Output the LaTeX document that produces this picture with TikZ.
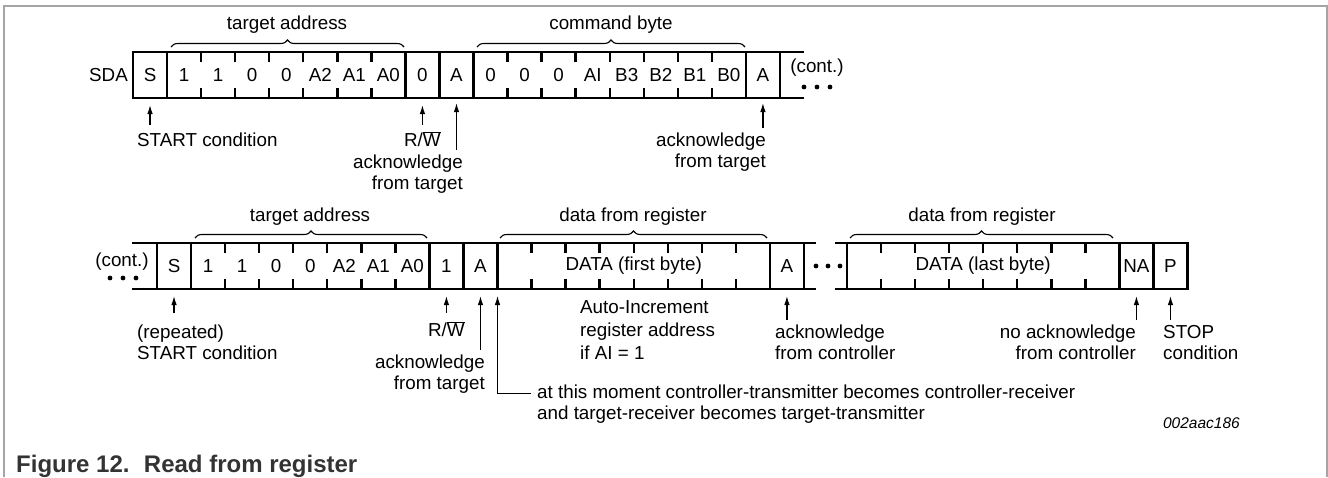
\documentclass[tikz,border=0pt]{standalone}
\usepackage{fontspec}
\setmainfont{Liberation Sans}
\usetikzlibrary{arrows.meta,decorations.pathreplacing}

\definecolor{framegray}{RGB}{165,165,165}
\definecolor{captiongray}{RGB}{51,51,51}

\def\cw{34.05}
\def\tk{9}

\tikzset{
	box/.style={line width=2.4pt, line cap=rect},
	lbl/.style={inner sep=0pt, font=\fontsize{18.8}{21}\selectfont},
	note/.style={inner sep=0pt, align=left, font=\fontsize{18.8}{21}\selectfont},
	arr/.style={line width=1.2pt, -{Latex[length=9pt,width=5.5pt]}},
	brc/.style={line width=1.1pt, decorate, decoration={brace,amplitude=7pt}},
}

\begin{document}
\begin{tikzpicture}[x=1pt,y=-1pt]

	\useasboundingbox (0,0) rectangle (1328,477);

	\draw[framegray, line width=2pt] (4,477) -- (4,5.5) -- (1326.5,5.5) -- (1326.5,477);

	% first line: target address and command byte
	\draw[box] (133,52) -- (803,52);
	\draw[box] (133,98) -- (803,98);
	\foreach \k in {0,1,8,9,10,18,19}
		\draw[box] (133+\k*\cw,52) -- (133+\k*\cw,98);
	\foreach \k in {2,3,4,5,6,7,11,12,13,14,15,16,17}
	{
		\draw[box] (133+\k*\cw,52) -- ++(0,\tk);
		\draw[box] (133+\k*\cw,98) -- ++(0,-\tk);
	}
	\foreach \bit [count=\k from 0] in {S,1,1,0,0,A2,A1,A0,0,A,0,0,0,AI,B3,B2,B1,B0,A}
		\node[lbl] (sa\k) at (133+\k*\cw+0.5*\cw,75) {\bit};

	\node[lbl, anchor=east] (sda) at (128,75) {SDA};

	\draw[brc] (171,47) -- (404,47);
	\node[lbl] (addra) at (287,25) {target address};
	\draw[brc] (477,47) -- (745,47);
	\node[lbl] (cmd) at (611,25) {command byte};

	\node[lbl] (conta) at (817,68) {(cont.)};
	\foreach \x in {804,817,830}
		\fill (\x,87) circle (2.4);

	\draw[arr] (sa0 |- 0,125) -- (sa0 |- 0,105);
	\node[lbl, anchor=west] (starta) at (137,140) {START condition};
	\draw[arr] (sa8 |- 0,125) -- (sa8 |- 0,105);
	\node[lbl] (rwa) at (sa8 |- 0,139) {R/$\overline{\mbox{W}}$};
	\draw[arr] (sa9 |- 0,150) -- (sa9 |- 0,103);
	\node[note, anchor=north east, align=right] (acka) at (463,155) {acknowledge\\from target};
	\draw[arr] (sa18 |- 0,128) -- (sa18 |- 0,103);
	\node[note, anchor=north east, align=right] (ackb) at (766,133) {acknowledge\\from target};

	% second line: repeated start and data
	\draw[box] (133,243) -- (815,243);
	\draw[box] (133,289) -- (815,289);
	\foreach \k in {0,1,8,9,10,18,19}
		\draw[box] (157+\k*\cw,243) -- (157+\k*\cw,289);
	\foreach \k in {2,3,4,5,6,7,11,12,13,14,15,16,17}
	{
		\draw[box] (157+\k*\cw,243) -- ++(0,\tk);
		\draw[box] (157+\k*\cw,289) -- ++(0,-\tk);
	}
	\foreach \bit [count=\k from 0] in {S,1,1,0,0,A2,A1,A0,1,A}
		\node[lbl] (sb\k) at (157+\k*\cw+0.5*\cw,266) {\bit};
	\node[lbl] (datafirst) at (157+14*\cw,266) {DATA (first byte)};
	\node[lbl] (sb18) at (157+18.5*\cw,266) {A};

	\draw[box] (836,243) -- (847+10*\cw,243);
	\draw[box] (836,289) -- (847+10*\cw,289);
	\foreach \k in {0,8,9,10}
		\draw[box] (847+\k*\cw,243) -- (847+\k*\cw,289);
	\foreach \k in {1,2,...,7}
	{
		\draw[box] (847+\k*\cw,243) -- ++(0,\tk);
		\draw[box] (847+\k*\cw,289) -- ++(0,-\tk);
	}
	\node[lbl] (datalast) at (847+4*\cw,266) {DATA (last byte)};
	\node[lbl] (sc8) at (847+8.5*\cw,266) {NA};
	\node[lbl] (sc9) at (847+9.5*\cw,266) {P};

	\node[lbl] (contb) at (122,262) {(cont.)};
	\foreach \x in {110,123,136}
		\fill (\x,278) circle (2.4);
	\foreach \x in {816,828,840}
		\fill (\x,266) circle (2.4);

	\draw[brc] (195,238) -- (427,238);
	\node[lbl] (addrb) at (310,217) {target address};
	\draw[brc] (500,238) -- (767,238);
	\node[lbl] (regfirst) at (633,217) {data from register};
	\draw[brc] (850,238) -- (1113,238);
	\node[lbl] (reglast) at (982,217) {data from register};

	\draw[arr] (sb0 |- 0,313) -- (sb0 |- 0,296);
	\node[note, anchor=north west] (startb) at (137,325) {(repeated)\\START condition};
	\draw[arr] (sb8 |- 0,313) -- (sb8 |- 0,296);
	\node[lbl] (rwb) at (sb8 |- 0,329) {R/$\overline{\mbox{W}}$};
	\draw[arr] (sb9 |- 0,350) -- (sb9 |- 0,296);
	\node[note, anchor=north east, align=right] (ackc) at (485,355) {acknowledge\\from target};

	\coordinate (turn) at (157+10*\cw,296);
	\coordinate (moment) at (531,393);
	\draw[arr, line width=0.9pt] (moment) -| (turn);
	\node[note, anchor=north west] (momentlbl) at (537,385)
		{at this moment controller-transmitter becomes controller-receiver\\and target-receiver becomes target-transmitter};
	\node[note, anchor=north west, font=\fontsize{18.8}{23}\selectfont] (autoinc) at (580,300)
		{Auto-Increment\\register address\\if AI = 1};

	\draw[arr] (sb18 |- 0,320) -- (sb18 |- 0,296);
	\node[note, anchor=north west] (ackd) at (775,325) {acknowledge\\from controller};
	\draw[arr] (sc8 |- 0,320) -- (sc8 |- 0,296);
	\node[note, anchor=north east, align=right] (acke) at (1136,325) {no acknowledge\\from controller};
	\draw[arr] (sc9 |- 0,320) -- (sc9 |- 0,296);
	\node[note, anchor=north west] (stop) at (1163,325) {STOP\\condition};

	\node[anchor=east, inner sep=0pt, font=\fontsize{15.5}{18}\selectfont\itshape] (docid) at (1240,423) {002aac186};

	\node[anchor=base west, inner sep=0pt, text=captiongray, font=\fontsize{24}{28}\selectfont\bfseries] (caption) at (16,472) {Figure 12.\hspace{0.6em}Read from register};

\end{tikzpicture}
\end{document}
